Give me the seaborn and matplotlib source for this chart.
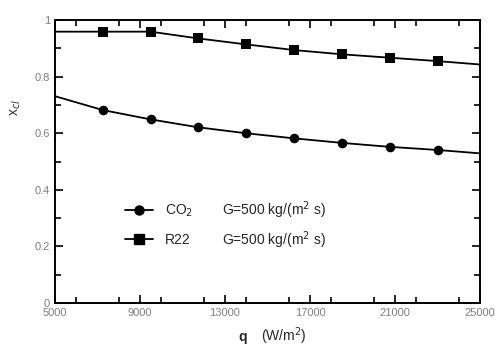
import matplotlib
matplotlib.use("Agg")
import matplotlib.pyplot as plt
import seaborn as sns
import pandas as pd
from matplotlib.ticker import MultipleLocator
from matplotlib.lines import Line2D

# Heat flux at the measured points (W/m^2)
q_points = [7250, 9500, 11750, 14000, 16250, 18500, 20750, 23000]
co2_points = [0.682, 0.649, 0.621, 0.600, 0.582, 0.566, 0.552, 0.541]
r22_points = [0.959, 0.959, 0.935, 0.914, 0.894, 0.879, 0.867, 0.855]

# Fitted curves spanning the full heat-flux range
q_curve = [5000, 7250, 9500, 11750, 14000, 16250, 18500, 20750, 23000, 25000]
co2_curve = [0.731, 0.682, 0.649, 0.621, 0.600, 0.582, 0.566, 0.552, 0.541, 0.529]
r22_curve = [0.959, 0.959, 0.959, 0.935, 0.914, 0.894, 0.879, 0.867, 0.855, 0.843]

x_ticks = [5000, 9000, 13000, 17000, 21000, 25000]
y_ticks = [0, 0.2, 0.4, 0.6, 0.8, 1]
y_tick_labels = ["0", "0.2", "0.4", "0.6", "0.8", "1"]

fluids = ["CO$_2$", "R22"]
mass_flux = ["G=500 kg/(m$^2$ s)", "G=500 kg/(m$^2$ s)"]

sns.set_style("ticks")
plt.rcParams["font.family"] = ["Liberation Sans", "DejaVu Sans"]

fig = plt.figure(figsize=(5.0, 3.52), dpi=100)
ax = fig.add_axes([0.11, 0.139, 0.85, 0.804])

curves = pd.DataFrame({"q": q_curve, "co2": co2_curve, "r22": r22_curve})
points = pd.DataFrame({"q": q_points, "co2": co2_points, "r22": r22_points})

sns.lineplot(data=curves, x="q", y="co2", color="black", lw=1.3, ax=ax)
sns.lineplot(data=curves, x="q", y="r22", color="black", lw=1.3, ax=ax)
sns.scatterplot(data=points, x="q", y="co2", marker="o", s=48, color="black",
                linewidth=0, ax=ax, zorder=3)
sns.scatterplot(data=points, x="q", y="r22", marker="s", s=55, color="black",
                linewidth=0, ax=ax, zorder=3)

ax.set_xlim(5000, 25000)
ax.set_ylim(0, 1)
ax.set_xticks(x_ticks)
ax.set_xticklabels([str(t) for t in x_ticks])
ax.set_yticks(y_ticks)
ax.set_yticklabels(y_tick_labels)
ax.xaxis.set_minor_locator(MultipleLocator(2000))
ax.yaxis.set_minor_locator(MultipleLocator(0.1))
ax.tick_params(which="both", direction="in", top=True, right=True,
               colors="black", labelcolor="#808080", labelsize=8, width=1.2)
ax.tick_params(which="major", length=6)
ax.tick_params(which="minor", length=4)
for side in ax.spines.values():
    side.set_linewidth(1.4)
    side.set_color("black")

ax.set_xlabel("")
ax.set_ylabel(r"x$_{cl}$", fontsize=10, color="#333333")
ax.yaxis.set_label_coords(-0.075, 0.69)
fig.text(0.486, 0.03, "q", fontsize=10, fontweight="bold", ha="center")
fig.text(0.522, 0.03, r"(W/m$^2$)", fontsize=10, ha="left")

handles = [
    Line2D([], [], color="black", lw=1.3, marker="o", markersize=6.5),
    Line2D([], [], color="black", lw=1.3, marker="s", markersize=6.5),
]
ax.legend(handles, fluids, loc="center left", bbox_to_anchor=(0.135, 0.277),
          frameon=False, fontsize=10, handlelength=2.0, labelspacing=1.0,
          handletextpad=0.9)
for label, y in zip(mass_flux, [0.329, 0.223]):
    ax.text(0.393, y, label, transform=ax.transAxes, fontsize=10,
            va="center", ha="left")

fig.savefig("out.png", dpi=100)
